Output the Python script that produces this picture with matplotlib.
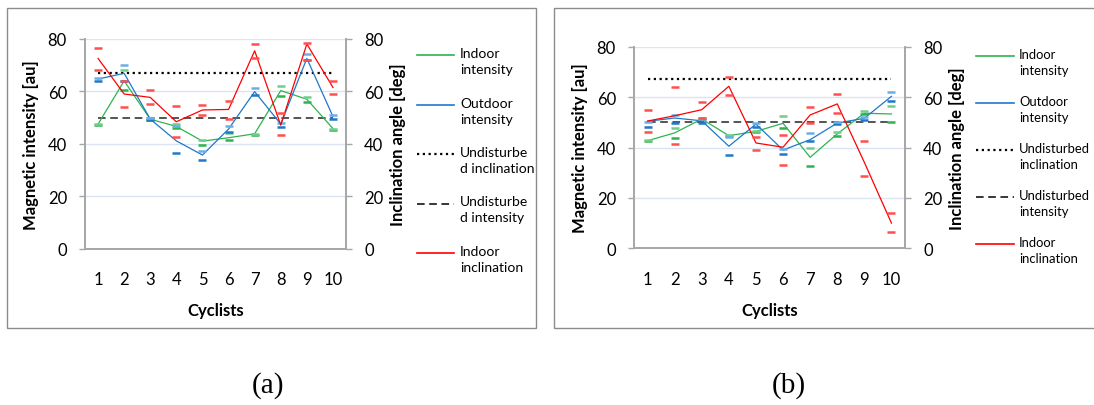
import matplotlib.pyplot as plt
from matplotlib.lines import Line2D
from matplotlib.patches import Rectangle

plt.rcParams['font.family'] = ['Lato', 'DejaVu Sans']

cyclists = [1, 2, 3, 4, 5, 6, 7, 8, 9, 10]
undist_incl = 67
undist_int = 50

# ---- panel (a) ----
green_a = [47.5, 64.0, 49.4, 46.6, 41.0, 42.3, 43.8, 60.3, 57.0, 45.8]
green_a_lo = [47.1, 60.6, 49.2, 46.2, 39.4, 41.5, 43.3, 58.1, 55.8, 45.4]
green_a_hi = [47.4, 68.2, 49.8, 47.4, 41.4, 44.1, 43.8, 61.9, 57.8, 45.7]

blue_a = [64.7, 66.9, 49.4, 41.1, 35.7, 45.6, 59.9, 47.5, 72.6, 50.4]
blue_a_lo = [64.1, 63.9, 49.0, 36.3, 33.9, 44.3, 58.6, 46.5, 72.1, 49.4]
blue_a_hi = [65.1, 69.9, 49.8, 46.6, 37.1, 46.8, 61.4, 48.0, 74.1, 51.1]

red_a = [72.6, 59.0, 57.7, 48.4, 52.9, 53.1, 75.5, 47.1, 78.1, 61.5]
red_a_lo = [68.3, 54.0, 55.0, 42.5, 51.0, 49.4, 72.6, 43.3, 72.1, 58.9]
red_a_hi = [76.4, 64.1, 60.6, 54.3, 54.8, 56.4, 78.2, 51.7, 78.5, 64.1]

# ---- panel (b) ----
green_b = [42.7, 45.8, 51.3, 44.7, 46.4, 49.6, 36.1, 45.4, 53.6, 53.3]
green_b_lo = [42.4, 43.9, 51.3, 44.4, 46.0, 47.7, 32.8, 44.4, 53.3, 50.0]
green_b_hi = [43.0, 47.6, 51.8, 45.0, 46.5, 52.4, 39.7, 46.0, 54.6, 56.6]

blue_b = [50.4, 51.7, 50.6, 40.5, 49.3, 39.0, 43.1, 49.7, 51.6, 60.3]
blue_b_lo = [48.3, 49.7, 49.6, 37.2, 48.0, 37.4, 42.7, 49.4, 50.9, 58.6]
blue_b_hi = [50.0, 53.0, 51.3, 44.0, 49.7, 39.4, 45.8, 50.0, 52.1, 62.1]

red_b = [50.5, 52.6, 55.0, 64.3, 41.8, 40.1, 52.9, 57.3, 34.1, 10.0]
red_b_lo = [46.0, 41.4, 51.6, 60.8, 39.1, 33.1, 49.7, 53.7, 28.8, 6.6]
red_b_hi = [55.0, 63.9, 58.2, 67.8, 44.0, 45.0, 55.9, 61.4, 42.7, 14.0]

GREEN = '#2eb34f'
BLUE = '#1f78c8'
RED = '#ff0000'
GRAY = '#a6a6a6'

W, H = 1094, 406
fig = plt.figure(figsize=(W / 100, H / 100), dpi=100)


def px_rect(l, t, r, b):
    return [l / W, (H - b) / H, (r - l) / W, (b - t) / H]


def draw_panel(rect, g, glo, ghi, bl, blo, bhi, r, rlo, rhi):
    ax = fig.add_axes(px_rect(*rect))
    ax2 = ax.twinx()
    for a in (ax, ax2):
        a.set_xlim(0.5, 10.5)
        a.set_ylim(0, 80)
        a.set_yticks([0, 20, 40, 60, 80])
        a.spines['top'].set_visible(False)
        for s in ('left', 'right', 'bottom'):
            a.spines[s].set_color(GRAY)
            a.spines[s].set_linewidth(1.2)
        a.tick_params(axis='y', direction='out', length=4, color=GRAY,
                      width=1.0, labelsize=12, pad=9)
    ax.set_xticks(cyclists)
    ax.tick_params(axis='x', length=0, labelsize=12, pad=16)
    ax.grid(axis='y', color='#dbe4f3', linewidth=1.0)
    ax.set_axisbelow(True)

    ax.axhline(undist_incl, xmin=0.05, xmax=0.95, color='black',
               linestyle=(0, (1, 1.6)), linewidth=1.6)
    ax.axhline(undist_int, xmin=0.05, xmax=0.95, color='#262626',
               linestyle=(0, (5, 3)), linewidth=1.1)

    ax.plot(cyclists, g, color=GREEN, linewidth=0.9)
    ax.plot(cyclists, bl, color=BLUE, linewidth=0.9)
    ax2.plot(cyclists, r, color=RED, linewidth=0.9)
    cap = dict(marker='_', linestyle='none', markersize=6, mew=1.8)
    ax.plot(cyclists, glo, color=GREEN, **cap)
    ax.plot(cyclists, ghi, color='#6fcf8a', **cap)
    ax.plot(cyclists, blo, color=BLUE, **cap)
    ax.plot(cyclists, bhi, color='#6aaee6', **cap)
    ax2.plot(cyclists, rlo, color='#ff5050', **cap)
    ax2.plot(cyclists, rhi, color='#ff5050', **cap)

    ax.set_ylabel('Magnetic intensity [au]', fontsize=12, fontweight='bold',
                  labelpad=6)
    ax2.set_ylabel('Inclination angle [deg]', fontsize=12, fontweight='bold',
                   labelpad=5)
    ax.set_xlabel('Cyclists', fontsize=12, fontweight='bold', labelpad=11)
    return ax


draw_panel((85, 40, 346, 249.5), green_a, green_a_lo, green_a_hi,
           blue_a, blue_a_lo, blue_a_hi, red_a, red_a_lo, red_a_hi)
draw_panel((634, 47.7, 905, 249.3), green_b, green_b_lo, green_b_hi,
           blue_b, blue_b_lo, blue_b_hi, red_b, red_b_lo, red_b_hi)

# legends (drawn by hand, Excel style with wrapped labels)
styles = [dict(color=GREEN, linewidth=1.2),
          dict(color=BLUE, linewidth=1.2),
          dict(color='black', linestyle=(0, (1, 1.6)), linewidth=1.6),
          dict(color='black', linestyle=(0, (5, 3)), linewidth=1.1),
          dict(color=RED, linewidth=1.2)]
labels_a = ['Indoor\nintensity', 'Outdoor\nintensity', 'Undisturbe\nd inclination',
            'Undisturbe\nd intensity', 'Indoor\ninclination']
labels_b = ['Indoor\nintensity', 'Outdoor\nintensity', 'Undisturbed\ninclination',
            'Undisturbed\nintensity', 'Indoor\ninclination']


def draw_legend(x0, x1, xt, y0, dy, labels, fs):
    for i, (st, lab) in enumerate(zip(styles, labels)):
        y = y0 + i * dy
        fig.add_artist(Line2D([x0 / W, x1 / W], [(H - y) / H] * 2, **st))
        fig.text(xt / W, (H - y + 8) / H, lab, fontsize=fs, va='top',
                 ha='left', linespacing=1.4)


draw_legend(417, 454, 460, 56, 49.5, labels_a, 10)
draw_legend(976, 1014, 1019, 57, 47, labels_b, 9.4)

# panel frames
fig.add_artist(Rectangle((7 / W, (H - 329) / H), (536 - 7) / W, (329 - 9) / H,
                         transform=fig.transFigure, fill=False,
                         edgecolor='#8c8c8c', linewidth=1.0))
fig.add_artist(Rectangle((554 / W, (H - 329) / H), (1100 - 554) / W, (329 - 9) / H,
                         transform=fig.transFigure, fill=False,
                         edgecolor='#8c8c8c', linewidth=1.0))

fig.text(268 / W, (H - 386) / H, '(a)', fontsize=21, ha='center', va='center',
         family='Liberation Serif')
fig.text(789 / W, (H - 386) / H, '(b)', fontsize=21, ha='center', va='center',
         family='Liberation Serif')

fig.savefig('out.png', dpi=100)
